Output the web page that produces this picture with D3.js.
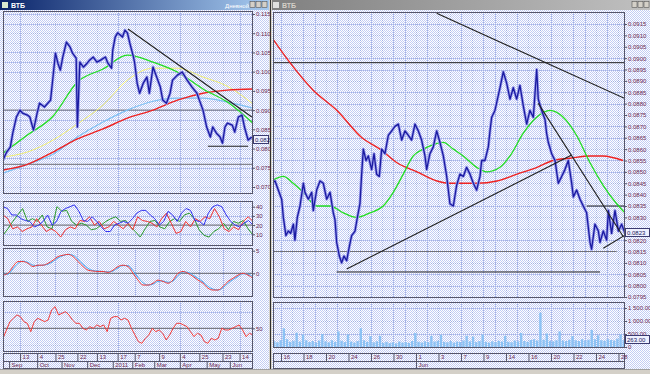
<!DOCTYPE html>
<html>
<head>
<meta charset="utf-8">
<script src="https://cdnjs.cloudflare.com/ajax/libs/d3/7.8.5/d3.min.js"></script>
<style>
  body { margin: 0; background: #d4d0c8; overflow: hidden; }
  svg { display: block; font-family: "Liberation Sans", Arial, sans-serif; }
</style>
</head>
<body>
<svg id="chart" width="650" height="374"></svg>
<script>
// ---- left window: daily VTB, Sep 2010 - Jun 2011 (x = trading day index)
var leftDays = [0,3,6,8,11,14,16,20,22,25,28,30,34,39,41,43,45,47,49,52,55,57,60,61,63,66,69,71,74,77,
  80,84,86,89,90,92,94,98,100,102,104,107,108,110,112,115,118,120,123,126,129,131,134,137,139,143,147,151,155,159,
  161,164,167,170,172,175,178,180,182,184,188,190,193,196,198,201,204];
var leftClose = [0.0770,0.0791,0.0804,0.0840,0.0882,0.0900,0.0892,0.0887,0.0882,0.0848,0.0892,0.0918,0.0908,0.0926,0.0986,
  0.1048,0.1022,0.1004,0.1038,0.1077,0.1064,0.1048,0.1035,0.0856,0.1025,0.1012,0.1022,0.1030,0.1038,0.1025,
  0.1030,0.1038,0.1022,0.1009,0.1056,0.1090,0.1101,0.1090,0.1108,0.1101,0.1074,0.1038,0.1022,0.0970,0.0944,
  0.0970,0.0986,0.0944,0.1012,0.0986,0.0960,0.0926,0.0918,0.0944,0.0978,0.0991,0.0999,0.0978,0.0960,0.0944,
  0.0926,0.0900,0.0856,0.0830,0.0856,0.0840,0.0830,0.0814,0.0856,0.0866,0.0861,0.0843,0.0882,0.0887,0.0856,
  0.0822,0.0830];
var leftMaDays = [0,20,41,61,82,102,123,143,164,184,205];
var leftMaGreen = [0.0788,0.0835,0.0884,0.0973,0.1007,0.1043,0.1025,0.0999,0.0955,0.0921,0.0866];
var leftMaYellow = [0.0778,0.0791,0.0822,0.0864,0.0913,0.0978,0.1009,0.1009,0.0986,0.0962,0.0916];
var leftMaBlue = [0.0736,0.0759,0.0785,0.0830,0.0869,0.0900,0.0923,0.0931,0.0931,0.0921,0.0905];
var leftMaRed = [0.0744,0.0759,0.0791,0.0825,0.0851,0.0879,0.0900,0.0926,0.0944,0.0952,0.0955];
var leftTrend = [[102.5,0.1111,204,0.0882]];
var leftBlackLevels = [[168,201,0.0806]];
var leftGrayLevels = [[0,205,0.0900],[0,205,0.0759]];
var leftLast = 0.0822;

var leftPriceTicks = [0.115,0.110,0.105,0.100,0.095,0.090,0.085,0.080,0.075,0.070];
var leftDayTicks = [14,28,43,61,77,94,108,128,145,161,180,194];
var leftDayLabels = ['13','4','25','22','13','17','7','9','4','25','23','14'];
var leftMonthTicks = [5,28,48,69,90,106,124,145,167,186];
var leftMonthLabels = ['Sep','Oct','Nov','Dec','2011','Feb','Mar','Apr','May','Jun'];

// indicator panels (spread evenly over the left date range)
var adxBlue = [40,38,31,31,27,25,24,18,20,24,31,20,24,35,38,40,42,35,25,24,29,24,18,13,13,20,22,24,22,27,
  33,36,36,31,27,20,24,35,31,24,33,38,36,25,24,20,33,40,42,40,31,24,20,18,22,25,20];
var adxRed = [31,27,16,18,13,16,18,27,20,13,16,13,7,15,18,16,25,24,29,20,24,16,18,24,20,16,22,15,29,25,
  24,22,18,27,33,22,11,13,24,18,27,24,29,27,38,29,16,13,18,15,24,29,24];
var adxGreen = [9,16,24,31,38,24,27,24,31,18,16,40,35,36,24,20,22,20,15,16,20,24,27,29,24,25,18,13,7,16,
  24,25,18,16,24,27,24,31,33,27,15,9,7,13,16,22,15,24,22,25,16,9];
var macdRed = [-0.4,0,1.5,2.6,2.6,2.2,1.5,1.8,1.8,2.2,2.9,3.7,4.0,4.2,3.7,2.6,1.5,0.7,0.5,0.4,0.4,0.2,0.7,1.5,1.8,
  1.5,0,-1.5,-2.6,-2.6,-2.2,-1.5,-1.8,-2.2,-1.5,0,0.4,0,-0.7,-1.5,-2.2,-3.3,-3.7,-3.7,-2.9,-1.8,-1.1,-0.4,0,-0.4,-1.1];
var macdBlue = [-0.2,-0.2,1.0,2.2,2.7,2.4,1.8,1.7,1.8,2.0,2.6,3.4,3.9,4.2,4.0,3.1,2.0,1.1,0.6,0.5,0.4,0.3,0.5,1.2,1.7,
  1.7,0.6,-0.9,-2.1,-2.6,-2.4,-1.8,-1.7,-2.0,-1.7,-0.5,0.3,0.2,-0.4,-1.1,-1.9,-2.9,-3.5,-3.7,-3.2,-2.2,-1.4,-0.7,-0.1,-0.2,-0.8];
var rsiRed = [38,48,58,62,66,64,58,56,46,58,62,60,58,60,72,76,66,68,70,66,60,56,56,50,48,52,50,54,52,54,
  46,62,64,64,60,62,60,50,42,34,32,38,42,50,46,48,44,36,42,50,56,56,54,52,46,40,44,42,34,32,
  38,36,38,50,48,48,50,52,54,48,40,44,42];

// ---- right window: hourly, 13 May - 28 Jun 2011 (x = trading days since 16 May)
var rightT = [-0.83,-0.53,-0.24,0.06,0.21,0.44,0.65,0.86,1.10,1.24,1.45,1.69,1.99,2.13,2.43,2.73,2.87,3.17,3.47,3.76,
  4.06,4.36,4.65,4.80,4.95,5.19,5.39,5.60,5.84,6.07,6.28,6.58,6.79,7.02,7.17,7.32,7.56,7.76,8.06,8.27,
  8.50,8.74,8.95,9.24,9.54,9.84,10.13,10.43,10.73,11.02,11.32,11.61,11.91,12.21,12.50,12.80,12.95,13.24,13.54,13.84,
  14.13,14.43,14.73,15.02,15.32,15.61,15.91,16.21,16.50,16.80,17.10,17.39,17.69,17.84,18.13,18.43,18.58,18.73,19.02,19.47,
  19.76,20.06,20.36,20.65,20.95,21.24,21.54,21.84,22.13,22.43,22.73,22.87,23.17,23.47,23.61,23.76,24.06,24.36,24.65,24.95,
  25.24,25.54,25.84,25.99,26.28,26.58,26.87,27.17,27.47,27.61,27.91,28.21,28.36,28.65,28.95,29.10,29.39,29.69,29.99,30.28,30.58];
var rightClose = [0.0845,0.0846,0.0842,0.0838,0.0830,0.0822,0.0824,0.0823,0.0827,0.0820,0.0830,0.0835,0.0845,0.0841,0.0838,0.0841,0.0833,0.0842,0.0846,0.0845,
  0.0838,0.0841,0.0832,0.0829,0.0819,0.0813,0.0810,0.0813,0.0811,0.0817,0.0822,0.0824,0.0830,0.0836,0.0849,0.0860,0.0855,0.0857,0.0851,0.0858,
  0.0849,0.0848,0.0860,0.0858,0.0866,0.0868,0.0870,0.0871,0.0864,0.0868,0.0866,0.0864,0.0871,0.0868,0.0864,0.0857,0.0851,0.0858,0.0861,0.0868,
  0.0863,0.0857,0.0848,0.0836,0.0835,0.0844,0.0849,0.0848,0.0852,0.0849,0.0845,0.0842,0.0848,0.0855,0.0855,0.0861,0.0868,0.0874,0.0877,0.0887,
  0.0894,0.0889,0.0882,0.0887,0.0882,0.0888,0.0879,0.0871,0.0877,0.0874,0.0895,0.0882,0.0877,0.0873,0.0867,0.0863,0.0858,0.0855,0.0845,0.0848,
  0.0851,0.0855,0.0845,0.0839,0.0842,0.0838,0.0835,0.0832,0.0819,0.0816,0.0827,0.0824,0.0819,0.0824,0.0820,0.0833,0.0823,0.0833,0.0824,0.0827,0.0823];
var rightRedT = [-0.8,0.8,2.84,4.98,7.2,8.8,10.31,12.09,13.87,15.02,17.42,19.2,20.98,22.76,24.18,25.69,27.47,28.62,30.4];
var rightRed = [0.0909,0.0898,0.0886,0.0877,0.0865,0.0860,0.0854,0.0850,0.0846,0.0845,0.0845,0.0846,0.0849,0.0852,0.0855,0.0856,0.0857,0.0857,0.0855];
var rightGreenT = [-0.83,0.2,1.09,1.98,3.17,4.36,5.54,6.73,7.91,9.09,9.98,10.87,11.76,12.65,13.54,14.43,15.32,16.2,17.4,18.28,
  19.47,20.36,21.54,22.73,23.91,25.09,26.28,27.47,28.65,29.84,30.58];
var rightGreen = [0.0846,0.0848,0.0845,0.0841,0.0835,0.0835,0.0832,0.0830,0.0832,0.0835,0.0841,0.0849,0.0857,0.0860,0.0862,0.0863,0.0860,0.0857,0.0852,0.0850,
  0.0852,0.0857,0.0867,0.0874,0.0877,0.0874,0.0866,0.0854,0.0844,0.0836,0.0832];
var rightTrend = [[13.84,0.09197,30.58,0.08822],[5.84,0.08073,25.84,0.08574],[22.87,0.08801,30.43,0.08215],[28.65,0.08164,30.58,0.08222]];
var rightBlackLevels = [[-0.71,30.58,0.0898],[4.95,28.36,0.0806],[27.17,30.58,0.0835]];
var rightGrayLevels = [[-0.71,29.84,0.0815]];
var rightLast = 0.0823;
var volume = [220,180,260,720,300,200,240,550,210,480,260,190,230,170,250,500,220,180,260,200,
  600,240,190,480,210,170,230,720,260,200,420,180,220,430,160,200,150,180,140,210,
  170,190,160,230,540,200,170,220,190,430,210,240,470,200,180,230,170,210,190,250,
  430,220,400,190,230,480,200,170,220,190,240,210,430,200,180,250,220,540,230,200,
  270,300,250,1320,280,520,240,220,260,600,250,230,280,420,260,230,300,250,280,660,
  300,450,260,240,300,270,250,320,480,263];
var volLast = 263;

var rightPriceTicks = [0.0915,0.0910,0.0905,0.0900,0.0895,0.0890,0.0885,0.0880,0.0875,0.0870,0.0865,0.0860,0.0855,
  0.0850,0.0845,0.0840,0.0835,0.0830,0.0825,0.0820,0.0815,0.0810,0.0805,0.0800,0.0795];
var volTicks = [0,500,1000,1500];
var rightDayTicks = [0,2,4,6,8,10,12,14,16,18,20,22,24,26,28,30];
var rightDayLabels = ['16','18','20','24','26','30','1','3','7','9','14','16','20','22','24','28'];
var rightMonthTicks = [12];
var rightMonthLabels = ['Jun'];

var svg = d3.select('#chart');
var defs = svg.append('defs');
var frameColor = '#55556a';
var labelColor = '#6b2a52';
var gridColor = '#a3b1e4';

// dithered window background
var pat = defs.append('pattern').attr('id', 'dither')
    .attr('width', 2).attr('height', 2).attr('patternUnits', 'userSpaceOnUse');
pat.append('rect').attr('width', 2).attr('height', 2).attr('fill', '#ffffff');
pat.append('rect').attr('width', 1).attr('height', 1).attr('fill', '#c3ccf4');
pat.append('rect').attr('x', 1).attr('y', 1).attr('width', 1).attr('height', 1).attr('fill', '#c3ccf4');

var gradActive = defs.append('linearGradient').attr('id', 'titleActive');
gradActive.append('stop').attr('offset', '0%').attr('stop-color', '#0a246a');
gradActive.append('stop').attr('offset', '100%').attr('stop-color', '#a6caf0');
var gradIdle = defs.append('linearGradient').attr('id', 'titleIdle');
gradIdle.append('stop').attr('offset', '0%').attr('stop-color', '#808080');
gradIdle.append('stop').attr('offset', '100%').attr('stop-color', '#c0c0c0');

svg.append('rect').attr('width', 650).attr('height', 374).attr('fill', '#d4d0c8');
svg.append('rect').attr('x', 0).attr('y', 10).attr('width', 269).attr('height', 359).attr('fill', 'url(#dither)');
svg.append('rect').attr('x', 272).attr('y', 10).attr('width', 378).attr('height', 359).attr('fill', 'url(#dither)');
svg.append('line').attr('x1', 270.5).attr('x2', 270.5).attr('y1', 0).attr('y2', 374)
    .attr('stroke', '#303030');

// title bars
svg.append('rect').attr('x', 0).attr('y', 0).attr('width', 269).attr('height', 10).attr('fill', 'url(#titleActive)');
svg.append('rect').attr('x', 2).attr('y', 2).attr('width', 6).attr('height', 6).attr('fill', '#d8e8d0');
svg.append('text').attr('x', 11).attr('y', 7.5).attr('fill', '#ffffff')
    .style('font-size', '7px').style('font-weight', 'bold').text('ВТБ');
svg.append('text').attr('x', 249).attr('y', 7.5).attr('fill', '#ffffff').attr('text-anchor', 'end')
    .style('font-size', '6px').text('Дневной');
svg.append('rect').attr('x', 272).attr('y', 0).attr('width', 378).attr('height', 10).attr('fill', 'url(#titleIdle)');
svg.append('rect').attr('x', 273).attr('y', 2).attr('width', 6).attr('height', 6).attr('fill', '#e0e0e0');
svg.append('text').attr('x', 282).attr('y', 7.5).attr('fill', '#d4d0c8')
    .style('font-size', '7px').style('font-weight', 'bold').text('ВТБ');
[250, 256, 262, 632, 638, 644].forEach(function(bx) {
  svg.append('rect').attr('x', bx).attr('y', 1.5).attr('width', 5).attr('height', 6)
      .attr('fill', '#d4d0c8').attr('stroke', '#404040').attr('stroke-width', 0.5);
});

var clipId = 0;
var panel = function(x0, x1, y0, y1) {
  clipId += 1;
  defs.append('clipPath').attr('id', 'clip' + clipId)
    .append('rect').attr('x', x0).attr('y', y0).attr('width', x1 - x0).attr('height', y1 - y0);
  var g = svg.append('g');
  g.append('g').attr('class', 'grid');
  var plot = g.append('g').attr('clip-path', 'url(#clip' + clipId + ')');
  g.append('rect').attr('x', x0 + 0.5).attr('y', y0 + 0.5)
    .attr('width', x1 - x0 - 1).attr('height', y1 - y0 - 1)
    .attr('fill', 'none').attr('stroke', frameColor);
  return { g: g, plot: plot, x0: x0, x1: x1, y0: y0, y1: y1 };
};

var grid = function(p, xs, ys) {
  var gg = p.g.select('.grid');
  xs.forEach(function(x) {
    gg.append('line').attr('x1', Math.round(x) + 0.5).attr('x2', Math.round(x) + 0.5)
      .attr('y1', p.y0).attr('y2', p.y1)
      .attr('stroke', gridColor).attr('stroke-dasharray', '1,1');
  });
  ys.forEach(function(y) {
    gg.append('line').attr('x1', p.x0).attr('x2', p.x1)
      .attr('y1', Math.round(y) + 0.5).attr('y2', Math.round(y) + 0.5)
      .attr('stroke', gridColor).attr('stroke-dasharray', '1,1');
  });
};

var styleAxis = function(ax) {
  ax.select('.domain').remove();
  ax.selectAll('line').attr('stroke', frameColor);
  ax.selectAll('text').attr('fill', labelColor).style('font-size', '6px');
};

var rightAxis = function(p, y, ticks, fmt) {
  var ax = p.g.append('g').attr('transform', 'translate(' + p.x1 + ',0)')
    .call(d3.axisRight(y).tickValues(ticks).tickFormat(fmt).tickSize(2).tickPadding(1));
  styleAxis(ax);
  return ax;
};

var drawLine = function(p, xs, ys, x, y, color, width, curve) {
  var line = d3.line()
    .x(function(d, i) { return x(xs[i]); })
    .y(function(d) { return y(d); })
    .curve(curve || d3.curveLinear);
  return p.plot.append('path').datum(ys).attr('d', line)
    .attr('fill', 'none').attr('stroke', color).attr('stroke-width', width)
    .attr('stroke-linejoin', 'round');
};

var drawPrice = function(p, xs, ys, x, y) {
  drawLine(p, xs, ys, x, y, '#9a9cec', 3);
  drawLine(p, xs, ys, x, y, '#1a1aa0', 1.3);
};

var segments = function(p, segs, x, y, color, width) {
  p.plot.selectAll(null).data(segs).enter().append('line')
    .attr('x1', function(d) { return x(d[0]); }).attr('y1', function(d) { return y(d[1]); })
    .attr('x2', function(d) { return x(d[2]); }).attr('y2', function(d) { return y(d[3]); })
    .attr('stroke', color).attr('stroke-width', width);
};

var levels = function(p, lv, x, y, color, width) {
  segments(p, lv.map(function(d) { return [d[0], d[2], d[1], d[2]]; }), x, y, color, width);
};

// current value box; hides the tick label it sits on, as the terminal does
var lastBox = function(p, ax, y, value, text, w) {
  var yy = Math.round(y(value));
  ax.selectAll('.tick').filter(function(d) { return Math.abs(y(d) - yy) < 6; })
    .select('text').remove();
  p.g.append('rect').attr('x', p.x1 + 0.5).attr('y', yy - 4.5).attr('width', w).attr('height', 8)
    .attr('fill', '#eef0ff').attr('stroke', '#3a3a70');
  p.g.append('text').attr('x', p.x1 + 2).attr('y', yy + 2).attr('fill', '#202060')
    .style('font-size', '6px').text(text);
};

var xRows = function(x0, x1, x, dayTicks, dayLabels, monthTicks, monthLabels) {
  var g = svg.append('g');
  g.append('rect').attr('x', x0 + 0.5).attr('y', 353.5).attr('width', x1 - x0 - 1).attr('height', 15)
    .attr('fill', 'none').attr('stroke', frameColor);
  g.append('line').attr('x1', x0).attr('x2', x1).attr('y1', 361.5).attr('y2', 361.5).attr('stroke', frameColor);
  var top = g.append('g').attr('transform', 'translate(0,353)')
    .call(d3.axisBottom(x).tickValues(dayTicks).tickSize(8)
      .tickFormat(function(d, i) { return dayLabels[i]; }));
  var bot = g.append('g').attr('transform', 'translate(0,361)')
    .call(d3.axisBottom(x).tickValues(monthTicks).tickSize(8)
      .tickFormat(function(d, i) { return monthLabels[i]; }));
  [top, bot].forEach(function(ax) {
    styleAxis(ax);
    ax.selectAll('text').attr('x', 2).attr('y', 1.5).attr('dy', '0.8em').style('text-anchor', 'start');
  });
};

// ================= left window =================
var lx = d3.scaleLinear().domain([0, 205]).range([3, 253]);
var ly = d3.scaleLinear().domain([0.070, 0.115]).range([187, 14]);
var spread = function(n) { return d3.range(n).map(function(i) { return i * 205 / (n - 1); }); };
var lGridX = leftDayTicks.map(lx);

var lp = panel(3, 253, 11, 194);
grid(lp, lGridX, d3.range(0.0675, 0.1151, 0.0025).map(ly));
levels(lp, leftGrayLevels, lx, ly, '#707078', 1);
levels(lp, leftBlackLevels, lx, ly, '#202020', 1);
drawLine(lp, leftMaDays, leftMaYellow, lx, ly, '#f2f070', 1, d3.curveMonotoneX);
drawLine(lp, leftMaDays, leftMaBlue, lx, ly, '#7ec0f4', 1.2, d3.curveMonotoneX);
drawLine(lp, leftMaDays, leftMaRed, lx, ly, '#ee2222', 1.4, d3.curveMonotoneX);
drawLine(lp, leftMaDays, leftMaGreen, lx, ly, '#22dd22', 1.3, d3.curveMonotoneX);
drawPrice(lp, leftDays, leftClose, lx, ly);
segments(lp, leftTrend, lx, ly, '#202020', 1.1);
var lAx = rightAxis(lp, ly, leftPriceTicks, d3.format('.3f'));
lastBox(lp, lAx, ly, leftLast, d3.format('.3f')(leftLast), 15);

// ADX style panel
var adxY = d3.scaleLinear().domain([10, 40]).range([234.3, 206.7]);
var p1 = panel(3, 253, 201, 246);
grid(p1, lGridX, [10, 30, 40].map(adxY));
levels(p1, [[0, 205, 20]], lx, adxY, '#606068', 1);
drawLine(p1, spread(adxGreen.length), adxGreen, lx, adxY, '#2a9a2a', 1);
drawLine(p1, spread(adxRed.length), adxRed, lx, adxY, '#f03030', 1);
drawLine(p1, spread(adxBlue.length), adxBlue, lx, adxY, '#3030f0', 1);
rightAxis(p1, adxY, [10, 20, 30, 40], d3.format('d'));

// MACD style panel
var macdY = d3.scaleLinear().domain([0, 5]).range([273.3, 250.7]);
var p2 = panel(3, 253, 248, 297);
grid(p2, lGridX, [5, -5].map(macdY));
levels(p2, [[0, 205, 0]], lx, macdY, '#606068', 1);
drawLine(p2, spread(macdBlue.length), macdBlue, lx, macdY, '#44a8f4', 1, d3.curveMonotoneX);
drawLine(p2, spread(macdRed.length), macdRed, lx, macdY, '#f03a3a', 1, d3.curveMonotoneX);
rightAxis(p2, macdY, [0, 5], d3.format('d'));

// RSI style panel
var rsiY = d3.scaleLinear().domain([50, 80]).range([328.3, 303.3]);
var p3 = panel(3, 253, 301, 352);
grid(p3, lGridX, [70, 30].map(rsiY));
levels(p3, [[0, 205, 50]], lx, rsiY, '#606068', 1);
drawLine(p3, spread(rsiRed.length), rsiRed, lx, rsiY, '#f03a3a', 1);
rightAxis(p3, rsiY, [50], d3.format('d'));

xRows(3, 253, lx, leftDayTicks, leftDayLabels, leftMonthTicks, leftMonthLabels);

// ================= right window =================
var rx = d3.scaleLinear().domain([-0.71, 30.58]).range([273, 625]);
var ry = d3.scaleLinear().domain([0.0795, 0.0915]).range([297, 24]);
var rGridX = d3.range(0, 31).map(rx);

var rp = panel(273, 625, 12, 298);
grid(rp, rGridX, rightPriceTicks.map(ry));
levels(rp, rightGrayLevels, rx, ry, '#707078', 1);
levels(rp, rightBlackLevels, rx, ry, '#202020', 1);
drawLine(rp, rightRedT, rightRed, rx, ry, '#ee2222', 1.4, d3.curveMonotoneX);
drawLine(rp, rightGreenT, rightGreen, rx, ry, '#22dd22', 1.3, d3.curveMonotoneX);
drawPrice(rp, rightT, rightClose, rx, ry);
segments(rp, rightTrend, rx, ry, '#202020', 1.1);
var rAx = rightAxis(rp, ry, rightPriceTicks, d3.format('.4f'));
lastBox(rp, rAx, ry, rightLast, d3.format('.4f')(rightLast), 24);

// volume
var volY = d3.scaleLinear().domain([0, 1500]).range([347, 308]);
var volX = d3.scaleBand().domain(d3.range(volume.length)).range([273, 625]).paddingInner(0.25);
var vp = panel(273, 625, 302, 348);
grid(vp, rGridX, [500, 1000, 1500].map(volY));
vp.plot.selectAll('rect.vol').data(volume).enter().append('rect')
  .attr('class', 'vol')
  .attr('x', function(d, i) { return volX(i); })
  .attr('width', volX.bandwidth())
  .attr('y', function(d) { return volY(d); })
  .attr('height', function(d) { return volY(0) - volY(d); })
  .attr('fill', '#8cc2f4');
var spaceFmt = d3.formatLocale({ decimal: '.', thousands: ' ', grouping: [3], currency: ['', ''] }).format(',.2f');
var vAx = rightAxis(vp, volY, volTicks, function(d) { return d === 0 ? '0' : spaceFmt(d); });
var vy = Math.round(volY(volLast));
vp.g.append('rect').attr('x', 625.5).attr('y', vy - 4.5).attr('width', 24).attr('height', 8)
  .attr('fill', '#eef0ff').attr('stroke', '#3a3a70');
vp.g.append('text').attr('x', 627).attr('y', vy + 2).attr('fill', '#202060')
  .style('font-size', '6px').text(spaceFmt(volLast));

xRows(273, 625, rx, rightDayTicks, rightDayLabels, rightMonthTicks, rightMonthLabels);

// status strip
svg.append('rect').attr('x', 0).attr('y', 369).attr('width', 650).attr('height', 5).attr('fill', '#d4d0c8');
svg.append('line').attr('x1', 0).attr('x2', 650).attr('y1', 369.5).attr('y2', 369.5).attr('stroke', '#a0a0a0');
</script>
</body>
</html>
